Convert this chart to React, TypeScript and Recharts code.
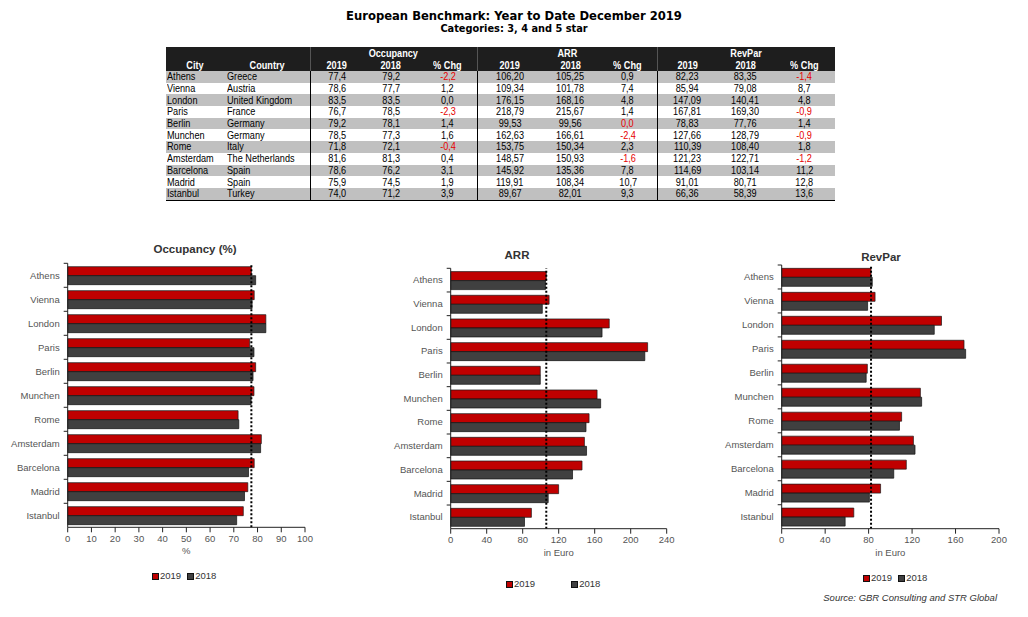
import React from 'react';
import { BarChart, Bar, XAxis, YAxis, ReferenceLine } from 'recharts';

const cities = ['Athens', 'Vienna', 'London', 'Paris', 'Berlin', 'Munchen', 'Rome', 'Amsterdam', 'Barcelona', 'Madrid', 'Istanbul'];
const countries = ['Greece', 'Austria', 'United Kingdom', 'France', 'Germany', 'Germany', 'Italy', 'The Netherlands', 'Spain', 'Spain', 'Turkey'];

const occ2019 = [77.4, 78.6, 83.5, 76.7, 79.2, 78.5, 71.8, 81.6, 78.6, 75.9, 74.0];
const occ2018 = [79.2, 77.7, 83.5, 78.5, 78.1, 77.3, 72.1, 81.3, 76.2, 74.5, 71.2];
const occChg = [-2.2, 1.2, 0.0, -2.3, 1.4, 1.6, -0.4, 0.4, 3.1, 1.9, 3.9];

const arr2019 = [106.2, 109.34, 176.15, 218.79, 99.53, 162.63, 153.75, 148.57, 145.92, 119.91, 89.67];
const arr2018 = [105.25, 101.78, 168.16, 215.67, 99.56, 166.61, 150.34, 150.93, 135.36, 108.34, 82.01];
const arrChg = [0.9, 7.4, 4.8, 1.4, -0.0, -2.4, 2.3, -1.6, 7.8, 10.7, 9.3];

const rev2019 = [82.23, 85.94, 147.09, 167.81, 78.83, 127.66, 110.39, 121.23, 114.69, 91.01, 66.36];
const rev2018 = [83.35, 79.08, 140.41, 169.3, 77.76, 128.79, 108.4, 122.71, 103.14, 80.71, 58.39];
const revChg = [-1.4, 8.7, 4.8, -0.9, 1.4, -0.9, 1.8, -1.2, 11.2, 12.8, 13.6];

const occTicks = [0, 10, 20, 30, 40, 50, 60, 70, 80, 90, 100];
const arrTicks = [0, 40, 80, 120, 160, 200, 240];
const revTicks = [0, 40, 80, 120, 160, 200];

const RED = '#c00000';
const DARK = '#404040';
const AXIS = '#222';
const FONT = "'Liberation Sans', Arial, sans-serif";

const fmt = (v: number, d: number) => v.toFixed(d).replace('.', ',');
const isNeg = (v: number) => v < 0 || Object.is(v, -0);

const CityTick = (props: any) => {
  const { x, y, payload } = props;
  const half = payload.offset ?? 12;
  return (
    <g>
      <line x1={x + 4} x2={x + 8} y1={y - half} y2={y - half} stroke={AXIS} />
      <text x={x} y={y} dy="0.35em" textAnchor="end" fill="#555" fontSize={9.5} fontFamily={FONT}>
        {payload.value}
      </text>
    </g>
  );
};

const Swatch = ({ color, label }: { color: string; label: string }) => (
  <span style={{ display: 'inline-flex', alignItems: 'center' }}>
    <span style={{ width: 5, height: 5, background: color, border: '1px solid #111', marginRight: 1 }} />
    {label}
  </span>
);

interface PanelProps {
  title: string;
  v2019: number[];
  v2018: number[];
  max: number;
  ticks: number[];
  xLabel: string;
  left: number;
  top: number;
  width: number;
  height: number;
  margin: { top: number; right: number; bottom: number; left: number };
  titleX: number;
  titleY: number;
  legendX: number;
  legendY: number;
  legendGap: number;
}

const Panel = (p: PanelProps) => {
  const data = cities.map((c, i) => ({ city: c, y2019: p.v2019[i], y2018: p.v2018[i] }));
  return (
    <>
      <div
        style={{
          position: 'absolute', left: p.titleX - 100, top: p.titleY - 7, width: 200, textAlign: 'center',
          fontFamily: FONT, fontWeight: 'bold', fontSize: 11.5, lineHeight: '14px', color: '#333',
        }}
      >
        {p.title}
      </div>
      <div style={{ position: 'absolute', left: p.left, top: p.top }}>
        <BarChart
          width={p.width}
          height={p.height}
          data={data}
          layout="vertical"
          margin={p.margin}
          barCategoryGap="14%"
          barGap={0}
        >
          <XAxis
            type="number"
            domain={[0, p.max]}
            ticks={p.ticks}
            interval={0}
            tickSize={5}
            tickMargin={3}
            height={30}
            axisLine={{ stroke: AXIS }}
            tickLine={{ stroke: AXIS }}
            tick={{ fill: '#555', fontSize: 9.5, fontFamily: FONT }}
            label={{ value: p.xLabel, position: 'insideBottom', offset: 3, fill: '#555', fontSize: 9.5, fontFamily: FONT }}
          />
          <YAxis
            type="category"
            dataKey="city"
            width={60}
            interval={0}
            tickLine={false}
            axisLine={{ stroke: AXIS }}
            tick={<CityTick />}
          />
          <Bar dataKey="y2019" fill={RED} stroke="#1a1a1a" strokeWidth={0.7} isAnimationActive={false} />
          <Bar dataKey="y2018" fill={DARK} stroke="#111" strokeWidth={0.7} isAnimationActive={false} />
          <ReferenceLine x={p.v2019[0]} stroke="#000" strokeWidth={2} strokeDasharray="2 2" />
        </BarChart>
      </div>
      <div
        style={{
          position: 'absolute', left: p.legendX, top: p.legendY - 6, height: 12, display: 'flex', gap: p.legendGap,
          fontFamily: FONT, fontSize: 9.5, lineHeight: '12px', color: '#333', whiteSpace: 'nowrap',
        }}
      >
        <Swatch color={RED} label="2019" />
        <Swatch color={DARK} label="2018" />
      </div>
    </>
  );
};

// narrow look of the source table: regular font squeezed horizontally
const Narrow = ({ children, left }: { children: React.ReactNode; left?: boolean }) => (
  <span
    style={{
      display: 'inline-block',
      transform: 'scaleX(0.87)',
      transformOrigin: left ? 'left center' : 'center center',
      whiteSpace: 'nowrap',
    }}
  >
    {children}
  </span>
);

const colWidths = [58, 86, 53, 56, 58, 65, 57, 58, 60, 57, 61];
const groupStart = [2, 5, 8];

const BenchTable = () => {
  const head: React.CSSProperties = {
    background: '#1e1e1e', color: '#fff', fontWeight: 'bold', textAlign: 'center', padding: 0,
    height: 12, lineHeight: '12px', overflow: 'hidden',
  };
  return (
    <table
      style={{
        position: 'absolute', left: 166, top: 47, width: 669, borderCollapse: 'collapse', tableLayout: 'fixed',
        fontFamily: FONT, fontSize: 10.5, borderBottom: '1px solid #000',
      }}
    >
      <colgroup>
        {colWidths.map((w, i) => (
          <col key={i} style={{ width: w }} />
        ))}
      </colgroup>
      <tbody>
        <tr>
          <td style={head} />
          <td style={head} />
          <td colSpan={3} style={{ ...head, borderLeft: '1px solid #555' }}><Narrow>Occupancy</Narrow></td>
          <td colSpan={3} style={{ ...head, borderLeft: '1px solid #555' }}><Narrow>ARR</Narrow></td>
          <td colSpan={3} style={{ ...head, borderLeft: '1px solid #555' }}><Narrow>RevPar</Narrow></td>
        </tr>
        <tr>
          {['City', 'Country', '2019', '2018', '% Chg', '2019', '2018', '% Chg', '2019', '2018', '% Chg'].map((h, i) => (
            <td key={i} style={{ ...head, borderLeft: groupStart.includes(i) ? '1px solid #555' : undefined }}>
              <Narrow>{h}</Narrow>
            </td>
          ))}
        </tr>
        {cities.map((c, r) => {
          const cells: { t: string; red?: boolean }[] = [
            { t: c },
            { t: countries[r] },
            { t: fmt(occ2019[r], 1) },
            { t: fmt(occ2018[r], 1) },
            { t: fmt(occChg[r], 1), red: isNeg(occChg[r]) },
            { t: fmt(arr2019[r], 2) },
            { t: fmt(arr2018[r], 2) },
            { t: fmt(arrChg[r], 1), red: isNeg(arrChg[r]) },
            { t: fmt(rev2019[r], 2) },
            { t: fmt(rev2018[r], 2) },
            { t: fmt(revChg[r], 1), red: isNeg(revChg[r]) },
          ];
          return (
            <tr key={c} style={{ background: r % 2 === 0 ? '#c0c0c0' : '#fff' }}>
              {cells.map((cell, i) => (
                <td
                  key={i}
                  style={{
                    padding: 0,
                    paddingLeft: i === 0 ? 1 : i === 1 ? 3 : 0,
                    height: 11.7,
                    lineHeight: '11px',
                    textAlign: i < 2 ? 'left' : 'center',
                    color: cell.red ? '#e60000' : '#000',
                    borderLeft: groupStart.includes(i) ? '1px solid #000' : undefined,
                    whiteSpace: 'nowrap',
                    overflow: 'hidden',
                  }}
                >
                  <Narrow left={i < 2}>{cell.t}</Narrow>
                </td>
              ))}
            </tr>
          );
        })}
      </tbody>
    </table>
  );
};

const App = () => {
  return (
    <div style={{ position: 'absolute', left: 0, top: 0, width: 1028, height: 617, background: '#fff', overflow: 'hidden' }}>
      <div
        style={{
          position: 'absolute', left: 0, top: 9, width: 1028, textAlign: 'center',
          fontFamily: "'DejaVu Sans', Verdana, sans-serif", fontWeight: 'bold', fontSize: 11.6, lineHeight: '14px', color: '#000',
        }}
      >
        European Benchmark: Year to Date December 2019
      </div>
      <div
        style={{
          position: 'absolute', left: 0, top: 23, width: 1028, textAlign: 'center',
          fontFamily: "'DejaVu Sans', Verdana, sans-serif", fontWeight: 'bold', fontSize: 9.8, lineHeight: '12px', color: '#000',
        }}
      >
        Categories: 3, 4 and 5 star
      </div>

      <BenchTable />

      <Panel
        title="Occupancy (%)"
        v2019={occ2019}
        v2018={occ2018}
        max={100}
        ticks={occTicks}
        xLabel="%"
        left={0}
        top={240}
        width={320}
        height={330}
        margin={{ top: 23.3, right: 15, bottom: 12.7, left: 7.7 }}
        titleX={195}
        titleY={249}
        legendX={152}
        legendY={576}
        legendGap={6}
      />
      <Panel
        title="ARR"
        v2019={arr2019}
        v2018={arr2018}
        max={240}
        ticks={arrTicks}
        xLabel="in Euro"
        left={380}
        top={240}
        width={300}
        height={330}
        margin={{ top: 28.3, right: 13.3, bottom: 11.3, left: 10.7 }}
        titleX={517}
        titleY={255}
        legendX={506}
        legendY={584}
        legendGap={36}
      />
      <Panel
        title="RevPar"
        v2019={rev2019}
        v2018={rev2018}
        max={200}
        ticks={revTicks}
        xLabel="in Euro"
        left={720}
        top={240}
        width={308}
        height={330}
        margin={{ top: 25, right: 29, bottom: 11.3, left: 1.7 }}
        titleX={881}
        titleY={257}
        legendX={863}
        legendY={578}
        legendGap={6}
      />

      <div
        style={{
          position: 'absolute', right: 31, top: 592, fontFamily: FONT, fontStyle: 'italic', fontSize: 9.5,
          lineHeight: '12px', color: '#333', whiteSpace: 'nowrap',
        }}
      >
        Source: GBR Consulting and STR Global
      </div>
    </div>
  );
};

export default App;
